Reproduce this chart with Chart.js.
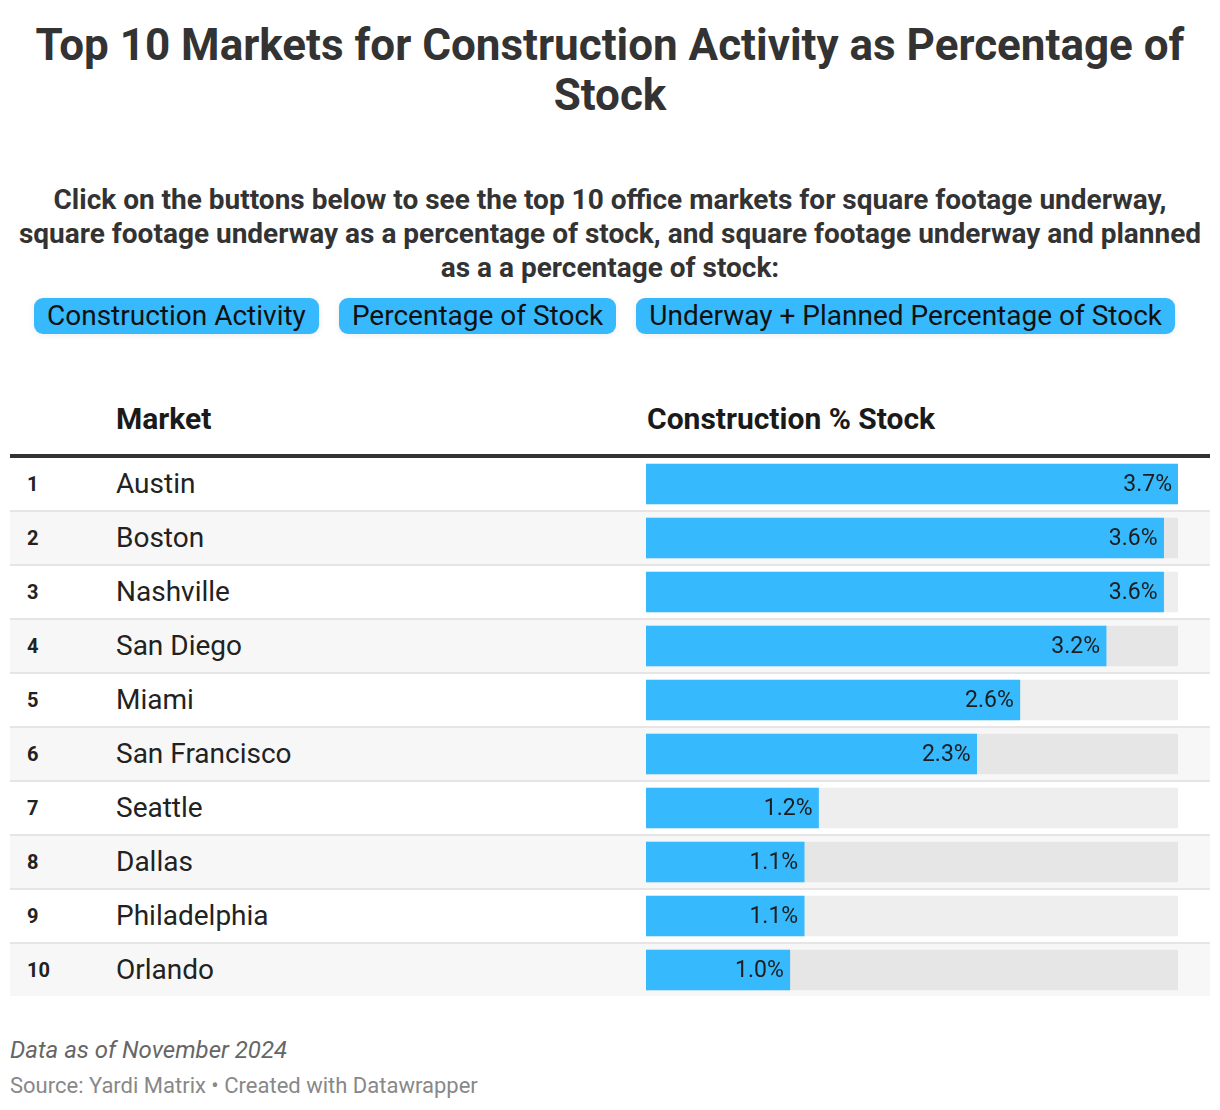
<!DOCTYPE html>
<html>
<head>
<meta charset="utf-8">
<script src="https://cdn.jsdelivr.net/npm/chart.js@4"></script>
<style>
  body { margin: 0; width: 1220px; height: 1110px; background: #fff; font-family: Roboto, "Noto Sans", sans-serif; color: #333; position: relative; }
  .abs { position: absolute; }
  #title { left: 0; top: 20px; width: 1220px; text-align: center; font-size: 44px; font-weight: 700; line-height: 50px; }
  #intro { left: 0; top: 183px; width: 1220px; text-align: center; font-size: 28px; font-weight: 700; line-height: 34px; white-space: nowrap; }
  #buttons { left: 34px; top: 298px; display: flex; gap: 20px; }
  .btn { background: #36b9fd; color: #111; font-size: 28px; height: 36px; line-height: 36px; padding: 0 13px; border-radius: 9px; box-shadow: 0 1px 6px rgba(0,0,0,0.08); white-space: nowrap; }
  .head { top: 401px; font-size: 30px; line-height: 36px; font-weight: 700; color: #1a1a1a; }
  #rule { left: 10px; top: 454px; width: 1200px; height: 4px; background: #333; }
  .row { left: 10px; width: 1200px; height: 52px; border-bottom: 2px solid #e5e5e5; }
  .rank { position: absolute; left: 17px; top: 0; line-height: 52px; font-size: 20px; font-weight: 700; color: #222; }
  .name { position: absolute; left: 106px; top: 0; line-height: 52px; font-size: 28px; color: #222; }
  #barBox { left: 646px; top: 457px; width: 532px; height: 540px; }
  #note { left: 10px; top: 1036px; font-size: 24px; line-height: 28px; font-style: italic; color: #666; }
  #source { left: 10px; top: 1073px; font-size: 22px; line-height: 26px; color: #888; }
</style>
</head>
<body>
<div id="title" class="abs">Top 10 Markets for Construction Activity as Percentage of<br>Stock</div>
<div id="intro" class="abs">Click on the buttons below to see the top 10 office markets for square footage underway,<br>square footage underway as a percentage of stock, and square footage underway and planned<br>as a a percentage of stock:</div>
<div id="buttons" class="abs"></div>
<div class="abs head" style="left:116px">Market</div>
<div class="abs head" style="left:647px">Construction % Stock</div>
<div id="rule" class="abs"></div>
<div id="rows"></div>
<div id="barBox" class="abs"><canvas id="bars"></canvas></div>
<div id="note" class="abs">Data as of November 2024</div>
<div id="source" class="abs">Source: Yardi Matrix • Created with Datawrapper</div>

<script>
const buttons = ['Construction Activity', 'Percentage of Stock', 'Underway + Planned Percentage of Stock'];
const markets = ['Austin', 'Boston', 'Nashville', 'San Diego', 'Miami', 'San Francisco', 'Seattle', 'Dallas', 'Philadelphia', 'Orlando'];
const pctStock = [3.7, 3.6, 3.6, 3.2, 2.6, 2.3, 1.2, 1.1, 1.1, 1.0];

const BLUE = '#36b9fd';
const ROW_H = 54;

const btnWrap = document.getElementById('buttons');
buttons.forEach(b => {
    const el = document.createElement('div');
    el.className = 'btn';
    el.textContent = b;
    btnWrap.appendChild(el);
});

// table rows (striped)
const rowsWrap = document.getElementById('rows');
markets.forEach((m, i) => {
    const row = document.createElement('div');
    row.className = 'abs row';
    row.style.top = (458 + i * ROW_H) + 'px';
    row.style.background = i % 2 ? '#f7f7f7' : '#fff';
    if (i === markets.length - 1) row.style.borderBottom = 'none';
    row.innerHTML = `<span class="rank">${i + 1}</span><span class="name">${m}</span>`;
    rowsWrap.appendChild(row);
});

const maxVal = Math.max(...pctStock);
const track = markets.map(() => maxVal);

// value labels inside the bar end
const valueLabels = {
    id: 'valueLabels',
    afterDatasetsDraw(chart) {
        const ctx = chart.ctx;
        const meta = chart.getDatasetMeta(1);
        ctx.save();
        ctx.font = '23px Roboto, "Noto Sans", sans-serif';
        ctx.fillStyle = '#1d1d1d';
        ctx.textAlign = 'right';
        ctx.textBaseline = 'middle';
        meta.data.forEach((bar, i) => {
            ctx.fillText(pctStock[i].toFixed(1) + '%', bar.x - 6, bar.y + 1);
        });
        ctx.restore();
    }
};

new Chart(document.getElementById('bars').getContext('2d'), {
    type: 'bar',
    data: {
        labels: markets,
        datasets: [
            { data: track, backgroundColor: markets.map((_, i) => i % 2 ? '#e6e6e6' : '#eeeeee'), barThickness: 40, grouped: false, order: 2 },
            { data: pctStock, backgroundColor: BLUE, barThickness: 40, grouped: false, order: 1 }
        ]
    },
    options: {
        indexAxis: 'y',
        responsive: true,
        maintainAspectRatio: false,
        animation: false,
        layout: { padding: 0 },
        plugins: { legend: { display: false }, tooltip: { enabled: false } },
        scales: {
            x: { display: false, min: 0, max: maxVal },
            y: { display: false }
        }
    },
    plugins: [valueLabels]
});
</script>
</body>
</html>
